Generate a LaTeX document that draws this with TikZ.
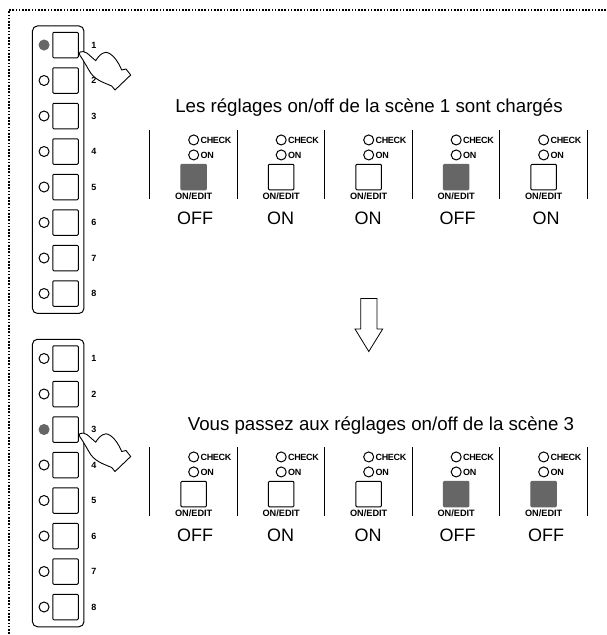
\documentclass[tikz,border=0pt]{standalone}
\usepackage{fontspec}
\setmainfont{Liberation Sans}
\usetikzlibrary{positioning}
\definecolor{litgray}{HTML}{666666}

\begin{document}
\begin{tikzpicture}[
    x=1pt, y=-1pt,
    line width=1pt,
    panel/.style = {rectangle, draw, rounded corners=5pt, minimum width=51.5pt, minimum height=287.5pt},
    keybox/.style = {rectangle, draw, rounded corners=1pt, minimum size=25.5pt, inner sep=0pt},
    led/.style = {circle, draw, minimum size=10pt, inner sep=0pt},
    lit/.style = {fill=litgray, draw=litgray},
    unlit/.style = {fill=white},
    keynum/.style = {inner sep=0pt, font=\fontsize{9}{9}\selectfont\bfseries},
    tag/.style = {inner sep=0pt, font=\fontsize{9}{9}\selectfont\bfseries\addfontfeature{LetterSpace=-4}},
    edit/.style = {inner sep=0pt, font=\fontsize{9.2}{9}\selectfont\bfseries},
    state/.style = {inner sep=0pt, font=\fontsize{18}{18}\selectfont},
    headline/.style = {inner sep=0pt, font=\fontsize{18.7}{18}\selectfont},
    hand/.pic = {
      \draw[fill=white, line width=.9pt, line join=round]
        (0,0) .. controls (2,-1.5) and (5,0) .. (7.3,1.3) -- (15.7,8.7)
        .. controls (18,5) and (21,.8) .. (26,.3)
        .. controls (32,1) and (38,9) .. (41.7,18) -- (46,17) -- (50.7,23) -- (35,38) -- (31.7,34)
        .. controls (25,31) and (17,29) .. (11,21.5)
        .. controls (8,17) and (4,9) .. (0,3.5)
        .. controls (-1,2) and (-1,1) .. (0,0) -- cycle;
    }]
\useasboundingbox (0,0) rectangle (606,635);

  %dotted frame
  \coordinate (FR) at (606,10);
  \coordinate (FC) at (9,10);
  \coordinate (FB) at (9,635);
  \draw[line width=1.2pt, dash pattern=on 1.6pt off 1.6pt] (FR) -- (FC) -- (FB);

  %scene keys
  \node[panel] (PAa) at (58.2,169.7) {};
  \node[panel] (PAb) at (58.2,483) {};
  \foreach \r/\dy/\on in {a/0/1, b/313.5/3}
    \foreach \k in {1,...,8} {
      \edef\ledstate{\ifnum\k=\on lit\else unlit\fi}
      \node[keybox] (K\r\k) at (65.5,{45+\dy+35.5*(\k-1)}) {};
      \node[led, \ledstate, left=2.7pt of K\r\k] (L\r\k) {};
      \node[keynum, right=12pt of K\r\k] (N\r\k) {\k};
    }

  %fingers on the keys
  \pic at (80,52) {hand};
  \pic at (80,433.5) {hand};

  %headlines
  \node[headline] (TA) at (369,108) {Les réglages on/off de la scène 1 sont chargés};
  \node[headline] (TB) at (381,426) {Vous passez aux réglages on/off de la scène 3};

  %channel strips
  \foreach \r/\dy/\c/\x/\body/\st/\dx in {
      a/0/1/193.7/lit/OFF/1.5, a/0/2/281.2/unlit/ON/-.5, a/0/3/368.7/unlit/ON/-.5, a/0/4/456.2/lit/OFF/1.5, a/0/5/543.7/unlit/ON/2.5,
      b/317/1/193.7/unlit/OFF/1.5, b/317/2/281.2/unlit/ON/-.5, b/317/3/368.7/unlit/ON/-.5, b/317/4/456.2/lit/OFF/1.5, b/317/5/543.7/lit/OFF/2.5} {
    \node[keybox, \body] (B\r\c) at (\x,177+\dy) {};
    \node[led, above=3.3pt of B\r\c] (O\r\c) {};
    \node[led, above=4pt of O\r\c] (C\r\c) {};
    \node[tag, right=1pt of O\r\c] (ON\r\c) {ON};
    \node[tag, right=1pt of C\r\c] (CH\r\c) {CHECK};
    \node[edit, below=2.4pt of B\r\c] (E\r\c) {ON/EDIT};
    \node[state, below=21.5pt of B\r\c, xshift=\dx pt] (S\r\c) {\st};
    \coordinate (ST\r\c) at (\x-44,130+\dy);
    \coordinate (SB\r\c) at (\x-44,199+\dy);
    \draw (ST\r\c) -- (SB\r\c);
  }
  \coordinate (STa6) at (587.3,130);
  \coordinate (SBa6) at (587.3,199);
  \coordinate (STb6) at (587.3,447);
  \coordinate (SBb6) at (587.3,516);
  \draw (STa6) -- (SBa6);
  \draw (STb6) -- (SBb6);

  %hollow arrow between both scenes
  \draw[line width=.8pt, line join=miter] (360.7,298.5) -- (377,298.5) -- (377,329) -- (382.7,329)
    -- (368.8,351.5) -- (355,329) -- (360.7,329) -- cycle;
\end{tikzpicture}
\end{document}
